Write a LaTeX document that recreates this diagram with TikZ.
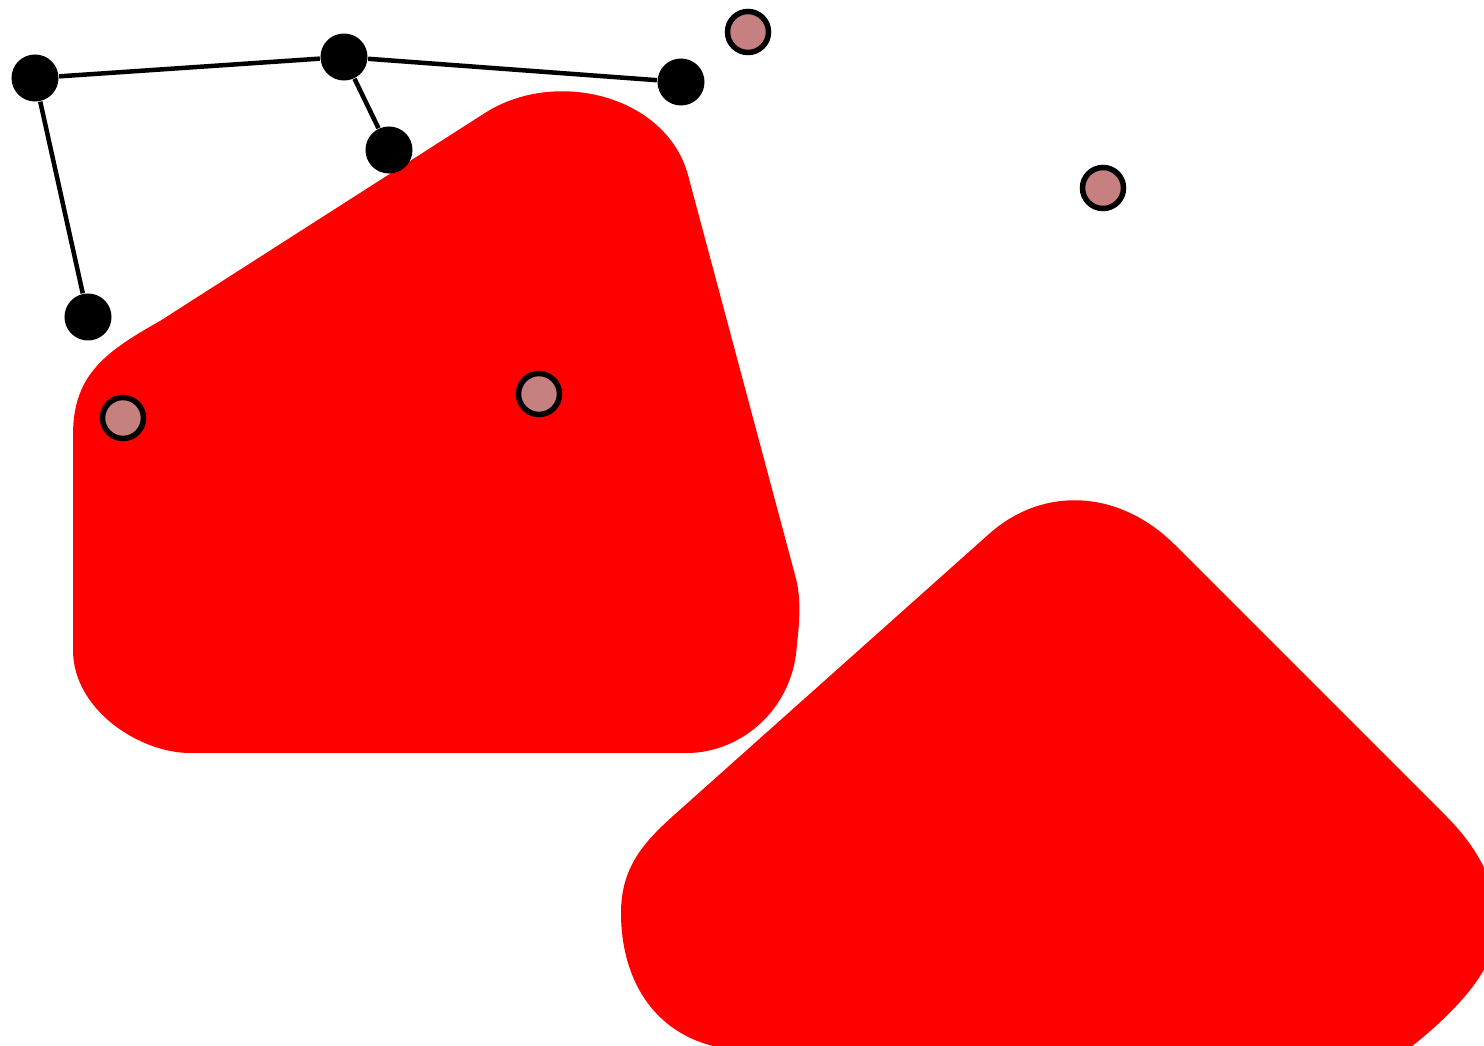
\documentclass[tikz,border=0pt]{standalone}
\definecolor{pinkdot}{RGB}{198,128,128}
\begin{document}
\begin{tikzpicture}[x=0.01cm,y=-0.01cm,
  blob/.style={fill=red,draw=none},
  vtx/.style={circle,fill=black,inner sep=0pt,minimum size=0.47cm},
  pdot/.style={circle,fill=pinkdot,draw=black,line width=0.055cm,inner sep=0pt,minimum size=0.41cm},
  link/.style={draw=black,line width=0.045cm}]
\useasboundingbox (0,0) rectangle (1484,1046);
\clip (0,0) rectangle (1484,1046);
% red region 1
\path[blob] (73,520) -- (73,435)
  .. controls (73,375) and (105,352) .. (160,321)
  -- (485,113)
  .. controls (555,68) and (666,95) .. (688,175)
  -- (795,575)
  .. controls (801,595) and (800,620) .. (797,643)
  .. controls (794,710) and (740,753) .. (687,753)
  -- (190,753)
  .. controls (140,753) and (73,710) .. (73,650)
  -- cycle;
% red region 2
\path[blob] (989,534)
  .. controls (1044,485) and (1120,490) .. (1175,545)
  -- (1446,816)
  .. controls (1490,860) and (1500,900) .. (1495,940)
  .. controls (1488,985) and (1430,1035) .. (1380,1070)
  -- (790,1070)
  .. controls (760,1070) and (740,1066) .. (713,1046)
  .. controls (650,1030) and (621,975) .. (621,913)
  .. controls (621,868) and (643,843) .. (673,816)
  -- cycle;
% graph
\node[vtx] (a) at (35,78) {};
\node[vtx] (b) at (344,57) {};
\node[vtx] (c) at (681,82) {};
\node[vtx] (d) at (389,150) {};
\node[vtx] (e) at (88,317) {};
\draw[link] (a) -- (b);
\draw[link] (b) -- (c);
\draw[link] (b) -- (d);
\draw[link] (a) -- (e);
% dots
\node[pdot] (p1) at (748,32) {};
\node[pdot] (p2) at (1103,188) {};
\node[pdot] (p3) at (123,418) {};
\node[pdot] (p4) at (539,394) {};
\end{tikzpicture}
\end{document}
